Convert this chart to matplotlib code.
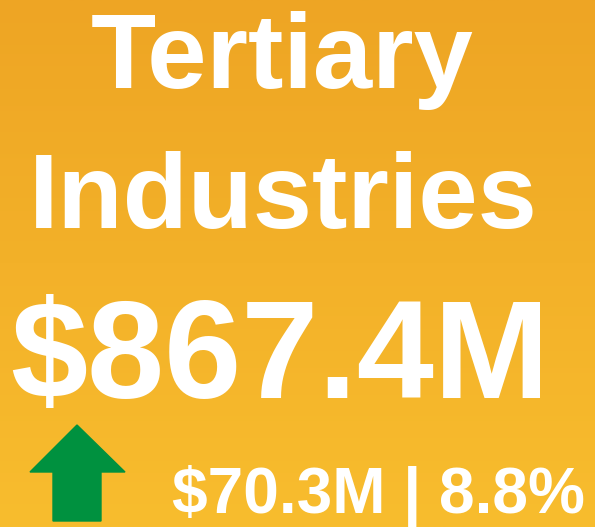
import numpy as np
import matplotlib

matplotlib.use("Agg")
import matplotlib.pyplot as plt
from matplotlib.patches import Polygon

# KPI tile data
title_lines = ["Tertiary", "Industries"]
value_m = 867.4
change_m = 70.3
change_pct = 8.8

W, H = 595, 527
DPI = 100
PX = 72 / DPI  # points per pixel

fig = plt.figure(figsize=(W / DPI, H / DPI), dpi=DPI)
ax = fig.add_axes([0, 0, 1, 1])
ax.set_xlim(0, W)
ax.set_ylim(H, 0)
ax.axis("off")

# vertical orange gradient background
top = np.array(matplotlib.colors.to_rgb("#EEA524"))
bot = np.array(matplotlib.colors.to_rgb("#F8BD2E"))
t = np.linspace(0, 1, 256)[:, None, None]
grad = top * (1 - t) + bot * t
ax.imshow(grad, extent=[0, W, H, 0], aspect="auto", zorder=0)

font = dict(family="Liberation Sans", weight="bold", color="white", ha="center", va="baseline")
ax.text(282, 88, title_lines[0], fontsize=106.5 * PX, **font)
ax.text(283, 228, title_lines[1], fontsize=106.5 * PX, **font)
ax.text(280, 398, f"${value_m:.1f}M", fontsize=138.5 * PX, **font)
ax.text(378, 513, f"${change_m:.1f}M | {change_pct:.1f}%", fontsize=64 * PX, **font)

# green up arrow
arrow = [(77, 425), (125, 472), (101, 472), (101, 521), (53, 521), (53, 472), (30, 472)]
ax.add_patch(Polygon(arrow, closed=True, color="#00913F", zorder=2))

fig.savefig("out.png", dpi=DPI)
